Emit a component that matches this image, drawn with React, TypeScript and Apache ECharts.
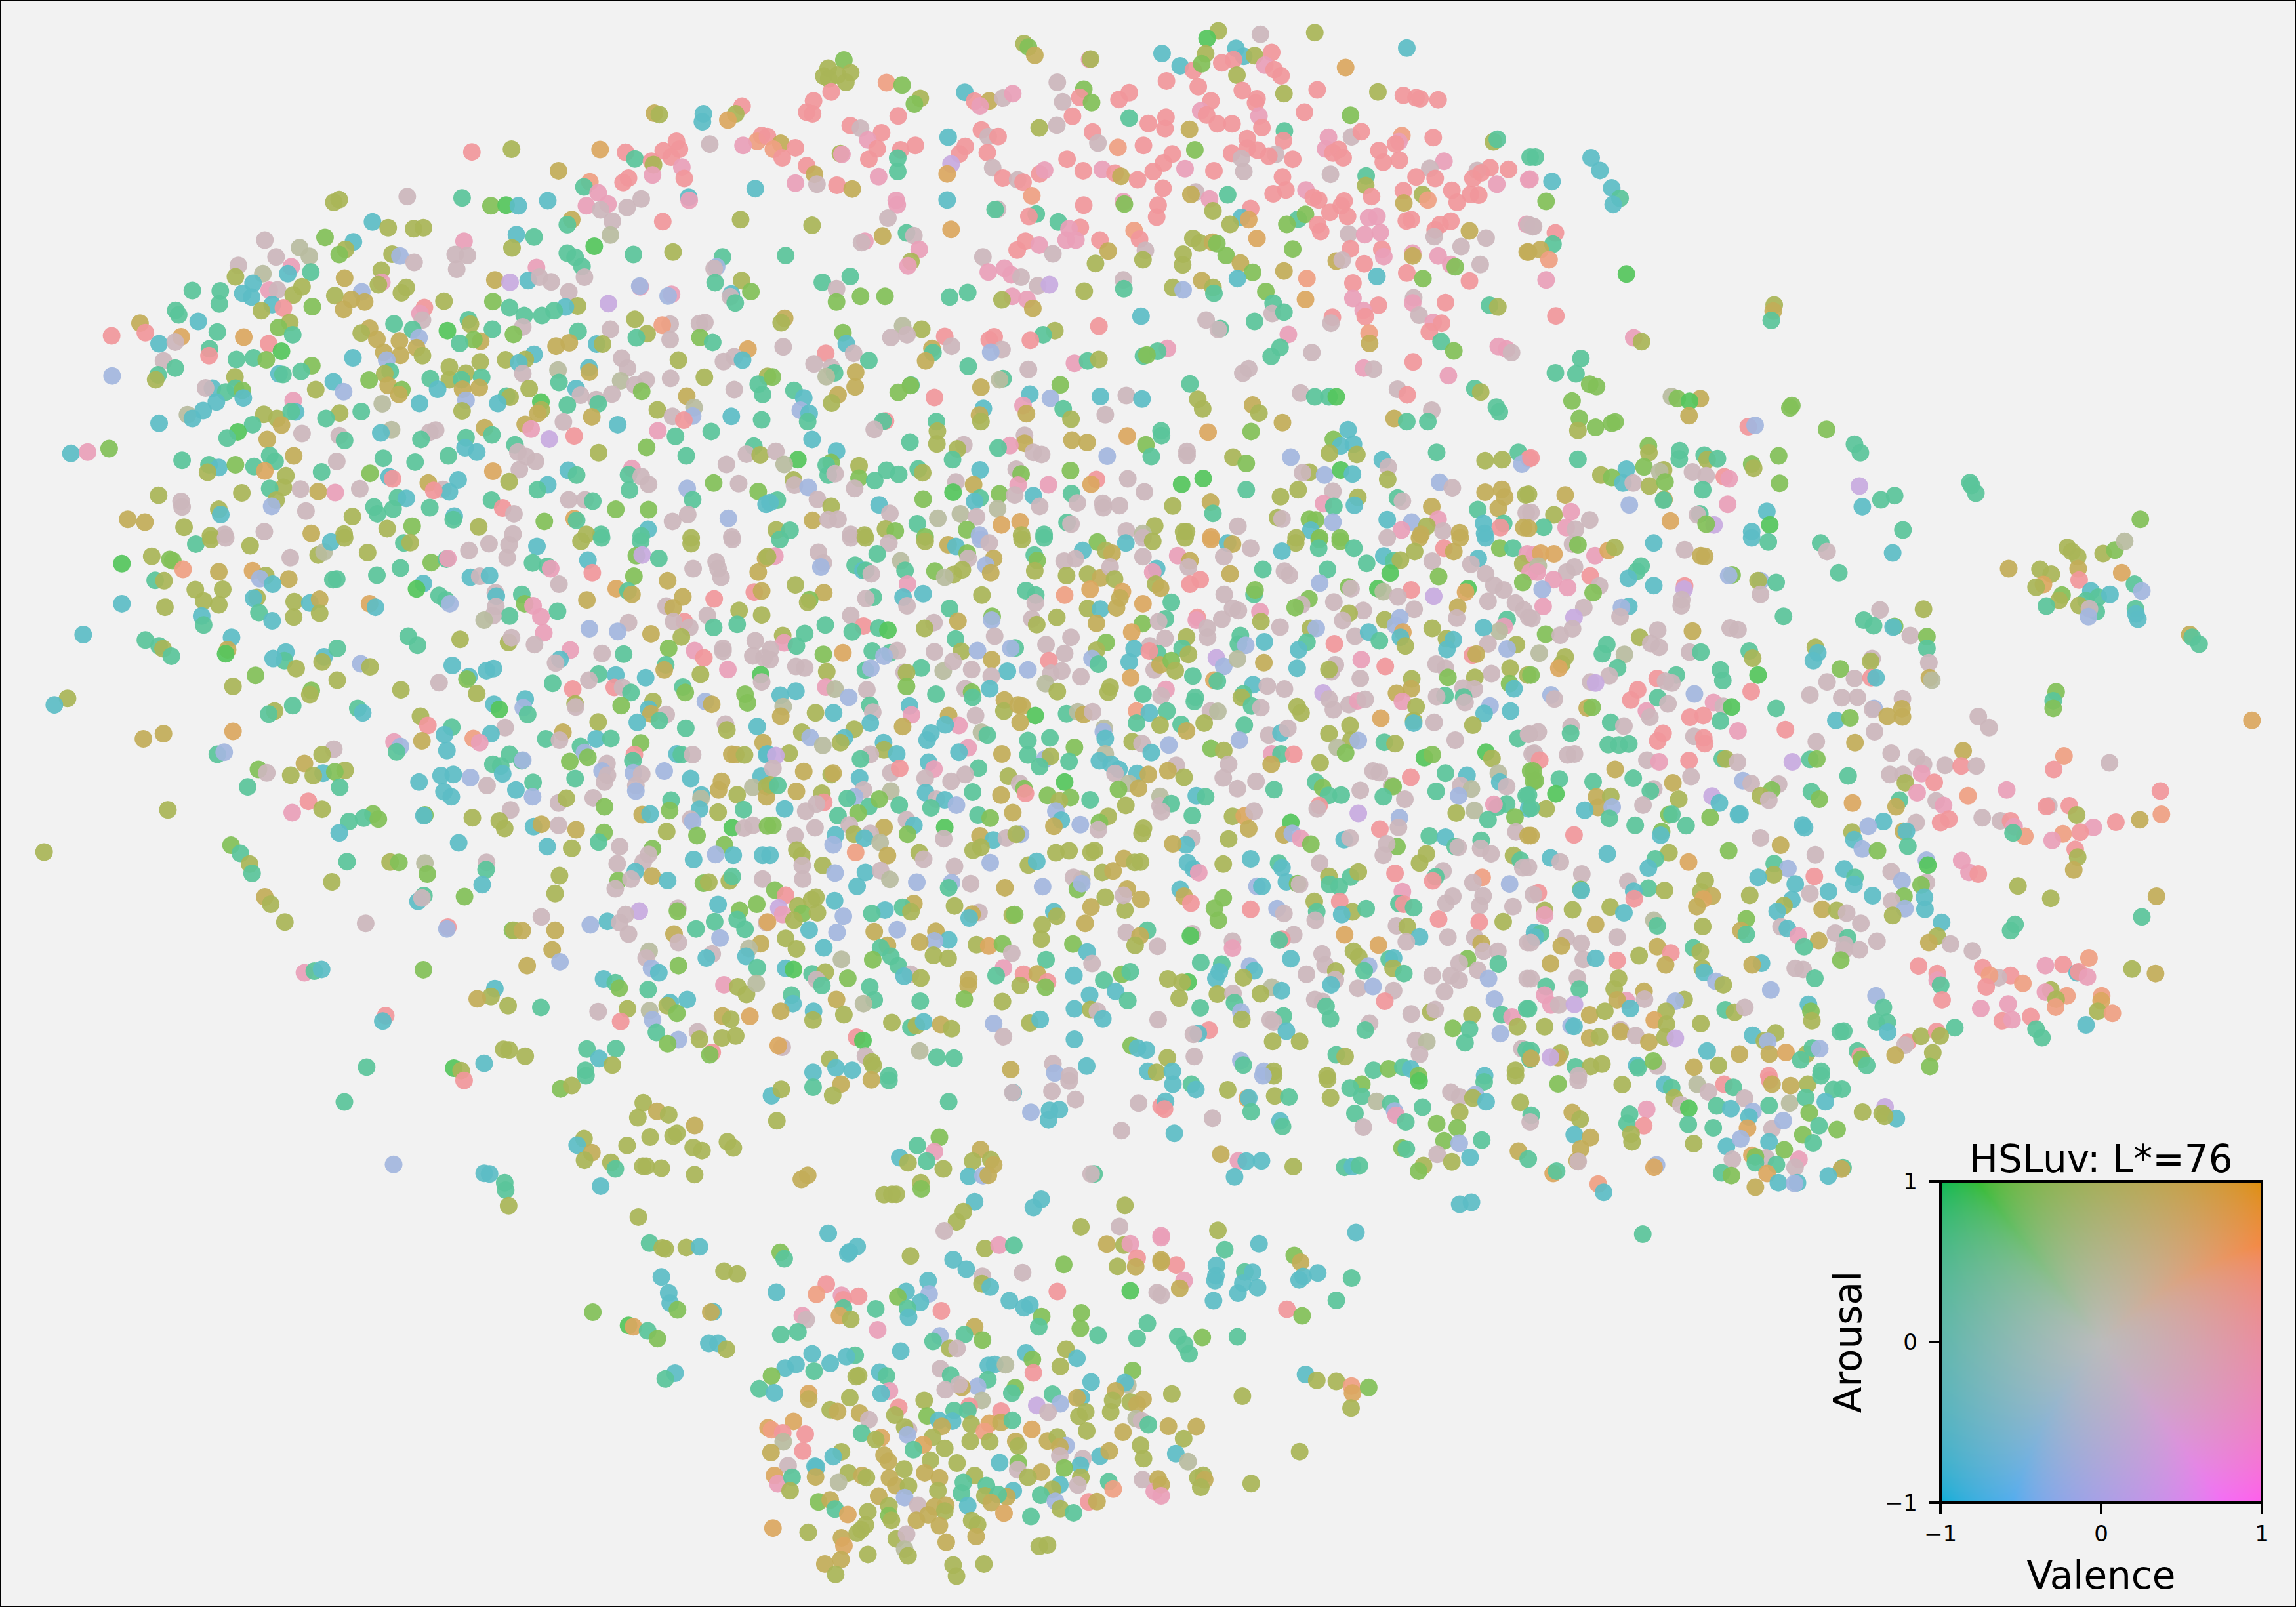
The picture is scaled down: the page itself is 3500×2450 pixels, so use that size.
import React, { useEffect, useRef } from "react";
import * as echarts from "echarts";

// Colour families seen among the points (index = third number of each point triple).
const tones = ["#55c65c","#82c058","#a9b557","#c2ad58","#dba760","#f1979b","#e99fb8","#ccb6bc","#5ac49a","#5cbdc6","#a3b6de","#c8aadf","#b9bc9f","#ef9f82"];

// Points, region by region: x, y, tone.
const northWest = [145,1322,9,179,1318,6,223,1308,1,1337,330,3,1347,334,2,1437,332,9,1435,355,9,1516,310,5,1503,332,2,1487,350,4,1556,395,5,1547,412,13,964,443,5,1045,435,2,1226,436,4,1278,444,5,1355,440,5,1382,412,5,1388,435,5,1371,458,5,1450,420,7,1518,424,6,1297,463,8,1331,470,5,1335,480,2,1393,487,6,1141,498,3,1205,530,13,1193,545,8,1284,519,5,1273,532,5,1333,510,6,1398,520,5,1543,550,9,1222,562,6,1242,595,6,1310,580,7,1407,575,9,1408,584,6,1198,600,6,1227,612,7,1281,605,7,682,590,2,693,582,2,832,573,7,944,577,8,1003,600,1,1034,598,0,1059,600,9,1119,585,9,1513,640,2,1168,640,3,1159,655,8,1251,645,7,1354,646,5,761,647,9,793,664,2,845,667,2,865,664,2,1247,685,12,664,692,1,722,705,9,1055,684,9,1091,691,8,541,700,7,612,722,12,948,703,6,706,727,2,693,742,1,801,741,2,817,746,10,632,747,12,564,749,7,930,742,7,955,745,7,1046,723,2,1214,718,0,1159,738,8,1294,742,8,1375,735,2,1476,749,8,1175,750,8,1189,777,8,846,765,7,595,778,6,487,774,7,537,798,12,635,793,8,779,788,2,933,785,7,1096,780,6,1464,778,10,1459,783,7,588,798,9,481,807,2,704,811,3,517,826,9,393,847,8,450,848,8,1011,816,3,1042,823,11,1079,818,9,1102,808,7,1126,822,7,1194,808,7,1515,818,2,1461,824,8,780,823,6,773,830,2,830,838,2,820,854,2,550,846,6,567,845,7,617,836,2,599,860,2,739,851,10,496,855,9,514,866,9,684,862,2,1162,851,7,1534,850,1,1308,836,6,1307,834,10,1372,858,6,1365,863,10,1494,857,9,1492,865,7,448,886,8,556,888,9,907,878,2,1007,879,1,1243,885,11,718,873,3,745,880,3,1180,892,2,1155,895,9,1502,883,8,638,894,1,702,902,3,579,898,5,534,906,2,1041,897,8,867,897,5,858,914,6,359,905,8,365,918,8,1071,920,8,1107,920,8,1132,906,8,405,937,9,286,942,3,592,940,2,957,932,8,961,945,2,1297,931,2,1369,945,7,1440,940,7,1429,943,7,863,933,7,805,944,8,569,955,1,444,968,8,755,957,3,738,971,2,843,961,8,914,964,0,1006,960,8,1068,953,7,1247,960,7,297,970,5,228,979,5,1353,948,13,1322,973,2,1049,975,1,598,976,8,856,985,10,498,983,4,370,982,4,770,989,3,1181,966,8,1300,985,8,1430,984,1,1456,998,8,325,1002,9,358,997,7,549,1002,5,816,994,3,982,995,3,968,990,1,1136,1009,3,1163,999,3,1219,1003,9,1231,1003,2,1369,990,7,939,1001,8,851,1014,3,428,1017,8,575,1024,0,427,1037,5,784,1027,3,1528,1018,4,818,1036,3,863,1037,2,1270,1044,7,1386,1050,2,1500,1040,7,721,1043,9,518,1043,8,544,1049,1,483,1048,8,334,1052,7,981,1055,2,1033,1049,2,1091,1033,9,1073,1048,2,1478,1054,7,1517,1050,9,790,1050,10,358,1073,8,637,1066,1,918,1070,2,1060,1058,9,1282,1073,7,1140,1079,12,1203,1072,9,1204,1085,3,797,1083,8,786,1090,2,615,1083,8,570,1090,9,578,1092,8,952,1088,2,323,1093,8,318,1107,2,229,1096,10,1068,1089,7,480,1099,2,1439,1100,2,984,1100,8,879,1104,8,918,1107,2,943,1107,8,1370,1103,7,1568,1097,2,754,1108,1,681,1113,9,1268,1110,12,1320,1108,7,1142,1115,8,1297,1122,7,1549,1120,8,793,1124,3,821,1136,1,815,1150,3,645,1136,2,979,1130,3,945,1135,3,702,1142,10,1081,1133,2,1311,1141,1,1500,1136,7,434,1132,9,420,1131,7,461,1143,8,481,1132,8,495,1138,1,894,1135,9,1177,1133,9,1186,1152,7,1403,1155,3,1250,1149,7,1218,1165,7,1558,1150,8,497,1160,9,1035,1155,8,1042,1158,2,1222,1177,8,1159,1181,8,1105,1172,0,1106,1195,2,952,1167,10,442,1172,9,599,1168,6,781,1177,12,857,1176,9,1017,1176,9,1418,1188,12,1099,1205,3,944,1198,2,415,1197,9,383,1209,12,539,1208,2,566,1220,2,1343,1195,2,1374,1214,7,604,1201,9,595,1200,8,694,1204,2,738,1200,8,1209,1215,3,1415,1213,10,1397,1225,5,1494,1214,9,1556,1224,8,393,1220,9,575,1239,3,516,1238,8,325,1234,9,666,1220,8,1262,1238,9,1151,1230,7,990,1247,3,1073,1237,3,1085,1251,6,800,1253,12,890,1254,7,878,1260,7,778,1262,9,617,1264,7,486,1259,0,1005,1268,8,952,1276,8,1344,1256,6,1453,1258,8,1173,1271,5,1380,1272,8,464,1277,8,546,1281,3,693,1270,7,704,1284,8,860,1281,8,1122,1280,11,1321,1304,1,950,1305,9,974,1318,9,1052,1297,8,1223,1320,2,1540,1301,8,551,1328,8,600,1329,3,916,1329,8,1058,1318,7,1075,1331,7,1402,1329,8,1525,1324,7,1553,1326,2,372,1342,8,427,1355,8,783,1336,8,848,1347,8,688,1345,7,562,1345,8,447,1363,9,481,1355,1,519,1360,8,1094,1345,7,1291,1366,6,1484,1354,7,424,1377,2,541,1373,4,657,1376,8,756,1380,1,1007,1374,4,1061,1369,7,1161,1371,9,1178,1385,8,1284,1384,8,1310,1389,7,584,1387,2,795,1390,9,802,1396,5,875,1408,3,936,1399,9,1040,1404,2,1119,1413,9,1325,1412,7,1458,1408,1,1509,1410,7,324,1444,2,494,1437,2,579,1421,2,551,1424,8,614,1426,7,650,1433,3,685,1436,6,735,1425,7,905,1427,7,918,1434,9,886,1430,5,1098,1428,8,1286,1429,8,1404,1424,10,1549,1433,1,564,1458,2,370,1462,7,372,1478,7,812,1451,8,830,1453,9,1004,1458,8,1162,1457,7,1195,1457,7,1211,1461,8,1415,1457,8,1325,1486,1,764,1478,8,878,1480,8,803,1484,8,1258,1485,1,1027,1481,5,555,1476,10,447,1485,2,451,1500,9,625,1490,7,1050,1498,7,1565,1470,9,1173,1512,4,1178,1517,8,1405,1500,7,1488,1511,10,261,1514,3,296,1522,3,376,1537,2,720,1506,2,771,1498,8,928,1505,9,926,1515,8,842,1534,1,978,1536,2,1112,1520,1,1374,1520,7,791,1541,2,540,1550,7,636,1555,3,459,1558,7,430,1562,2,703,1557,2,1324,1543,9,1048,1557,7,1228,1558,8,1198,1558,2,1310,1562,8,1412,1568,2,1495,1565,7];

const north = [921,90,2,898,112,0,1007,100,7,1118,95,2,524,127,2,533,137,1,546,161,3,658,173,6,660,172,2,806,156,9,957,141,9,973,164,9,895,157,2,995,162,2,952,174,5,1030,153,5,1306,140,9,843,192,9,870,205,5,887,186,1,928,183,5,1016,190,6,1035,203,5,1049,221,5,959,219,2,1181,197,4,156,175,1,124,199,2,115,222,2,170,212,2,143,219,2,125,230,2,160,240,2,130,268,5,243,241,13,275,248,1,592,240,7,646,260,1,815,236,5,880,253,5,970,264,5,1055,273,2,1123,262,5,1247,268,2,1299,278,5,1325,285,5,1333,288,5,1370,291,5,403,269,9,423,295,5,453,294,3,481,286,7,501,273,6,312,287,2,300,303,1,94,294,5,80,327,5,92,332,5,434,309,6,638,284,5,662,299,1,603,297,7,718,290,5,739,270,5,906,294,5,997,300,5,1000,288,5,1097,327,5,1191,336,1,267,338,5,623,339,5,885,323,6,897,335,5,739,344,8,1004,338,6,169,366,5,190,374,7,233,387,5,555,373,2,591,365,7,778,360,5,814,342,5,919,361,5,949,361,5,812,375,5,862,377,3,1010,372,5,1056,382,8,1146,400,6,1193,399,7,1213,384,5,1296,395,13,1290,413,6,1360,401,5,437,379,5,451,398,7,471,398,5,664,385,5,369,400,9,205,408,6,980,404,5,1054,410,5,1283,420,5,1483,413,2,1491,406,8,404,427,5,224,434,5,272,437,5,302,424,5,716,430,13,675,417,7,768,424,5,873,437,1,1001,438,5,980,432,5,1140,434,6,1167,436,5,1249,439,5,0,398,5,27,418,3,12,435,13,57,431,5,392,449,5,449,445,5,266,461,8,149,448,2,152,450,6,207,464,5,30,460,5,827,449,5,948,447,5,1038,450,7,1024,455,5,1073,464,5,968,462,7,1155,446,5,1176,460,5,1558,458,8,1258,473,5,1291,467,5,612,464,5,1382,470,6,80,483,5,375,478,11,460,489,7,266,500,8,367,507,4,853,492,6,809,475,5,788,500,5,684,494,6,645,498,5,710,505,5,722,514,3,912,498,5,973,500,7,1150,508,7,1353,491,7,1476,489,5,1450,497,7,1514,494,5,96,508,3,101,537,7,57,534,6,142,540,5,173,551,3,227,515,6,481,519,5,511,524,7,522,531,5,556,507,5,566,496,6,756,524,5,1052,516,5,1223,513,8,1222,541,2,1325,516,5,1364,520,5,1441,520,5,1555,524,6,1458,504,5,1490,537,6,808,549,5,540,571,13,1033,565,5,1059,554,5,1100,554,6,1115,576,5,1234,573,5,1299,556,5,1338,567,2,1398,555,5,1349,583,13,1436,567,5,1453,569,5,875,560,7,865,567,3,903,580,6,940,568,8,263,584,6,265,597,6,367,583,9,1126,583,5,1178,586,5,1409,590,5,1300,592,3,1172,600,5,646,598,5,727,588,6,729,595,1,798,598,5,470,610,7,465,611,8,987,608,5,910,615,2,1149,619,5,246,636,7,91,657,2,549,624,8,534,631,5,795,633,5,968,634,9,983,640,4,1084,639,8,1099,625,1,1185,631,5,1228,635,6,1245,631,6,1315,640,5,1305,644,5,594,647,8,639,663,5,616,667,6,1124,655,5,1061,654,1,945,654,2,1396,645,5,1374,655,5,1551,654,6,1565,660,7,284,679,8,299,687,7,375,669,4,749,672,13,1130,675,5,1187,682,7,1220,684,6,1252,678,6,1364,670,5,1362,690,7,1434,673,3,1468,694,7,235,688,3,199,703,6,192,707,7,610,700,6,630,700,6,679,700,5,760,697,5,869,695,2,883,708,2,909,706,3,918,710,1,1000,695,4,527,703,5,555,714,6,310,727,6,37,745,8,440,749,7,510,729,5,583,740,7,696,732,3,772,730,7,937,745,1,1073,726,1,1191,725,5,1255,727,5,1417,719,7,1552,735,3,293,762,2,287,775,6,849,741,2,848,772,2,767,757,2,670,768,2,966,767,3,1259,748,6,1318,738,6,1318,746,3,1370,746,6,1162,761,3,1174,758,7,1219,769,5,1396,771,6,1405,778,1,1456,771,7,484,782,6,451,793,6,498,801,6,518,808,7,1055,790,3,991,794,1,1102,812,13,1306,796,5,1245,806,9,960,812,9,727,816,7,887,818,3,1339,812,1,1434,819,5,828,838,2,849,845,10,910,838,2,912,855,8,728,842,8,112,823,8,169,806,8,141,842,7,552,833,7,576,830,11,647,849,2,1196,825,5,1018,850,1,190,864,1,240,864,1,141,880,1,372,866,8,409,853,8,500,864,6,479,874,2,530,873,6,1099,873,4,1196,870,6,1248,890,5,1385,882,5,1320,868,7,1318,883,6,1475,890,8,1492,895,2,1033,884,8,542,899,3,1217,905,6,1221,923,5,1331,919,7,763,922,9,35,928,3,28,941,2,896,933,7,925,958,8,921,961,7,1031,914,7,1055,910,8,995,937,8,1154,925,5,1151,942,7,1360,940,6,1377,942,5,1352,967,5,276,950,12,315,960,2,677,951,5,587,964,2,154,970,1,362,981,5,252,984,7,285,976,7,463,982,5,453,991,5,1229,971,13,1230,1001,3,1064,975,6,563,976,8,537,992,5,479,1019,7,456,1027,10,161,1002,9,336,1016,3,338,1028,8,376,1009,7,32,1011,7,1376,996,8,1493,1010,6,1510,1018,6,1520,1028,7,1402,1023,1,1112,1028,7,1047,1013,8,1029,1039,8,817,1016,6,797,1024,8,119,1030,5,176,1030,7,207,1051,8,323,1052,3,627,1059,6,654,1052,8,677,1048,2,768,1038,8,775,1035,1,95,1061,7,130,1071,7,137,1087,8,410,1068,8,533,1077,7,1319,1055,5,1218,1073,6,1238,1076,7,983,1075,7,971,1088,7,180,1085,3,120,1098,12,1391,1095,6,10,1099,1,436,1129,3,481,1104,8,474,1107,12,598,1122,1,179,1128,3,863,1119,8,1287,1135,7,1445,1133,8,1457,1143,2,54,1138,8,293,1123,8,292,1124,1,267,1144,1,341,1159,5,536,1149,9,578,1161,10,680,1156,9,733,1153,7,765,1163,9,1089,1146,7,1118,1157,8,1147,1157,8,1162,1157,0,1307,1151,5,144,1151,3,131,1175,2,74,1160,9,879,1164,2,889,1192,2,1357,1196,7,991,1181,3,1004,1204,2,67,1196,10,85,1205,9,522,1182,6,604,1192,8,441,1191,9,433,1210,3,529,1206,3,690,1209,7,1489,1187,8,1495,1201,8,1280,1220,3,1306,1229,8,1349,1229,8,620,1222,2,436,1229,2,82,1229,8,241,1227,5,236,1228,8,345,1229,8,218,1252,7,1052,1232,3,91,1281,9,347,1257,2,525,1269,7,735,1271,4,804,1256,8,805,1270,8,900,1260,4,988,1258,1,1186,1253,9,291,1289,8,346,1294,2,622,1283,3,653,1290,3,525,1292,3,495,1299,6,471,1306,8,401,1297,7,388,1309,2,141,1315,9,1156,1281,1,1171,1300,9,1197,1295,9,1204,1325,2,1148,1321,2,773,1297,1,951,1333,2,543,1319,7,560,1325,7,17,1316,7,378,1340,8,694,1330,10,857,1316,7,857,1328,7,784,1331,8,978,1351,1,1069,1333,10,1367,1319,8,1534,1319,8,1556,1337,5,1541,1353,10,1466,1343,2,1501,1340,2,1256,1341,9,62,1340,0,34,1354,12,130,1348,1,120,1356,8,187,1358,2,243,1371,8,434,1370,9,619,1372,1,1268,1362,7,124,1385,8,138,1381,7,268,1383,8,308,1367,8,317,1378,2,508,1368,7,518,1382,1,187,1394,1,219,1401,8,1107,1377,2,1093,1378,7,1138,1385,10,1171,1370,0,1195,1382,9,1267,1398,2,53,1399,2,55,1414,7,83,1421,10,385,1405,7,421,1413,3,574,1413,6,512,1414,6,672,1398,5,661,1412,4,736,1396,7,846,1412,0,890,1395,0,770,1434,7,178,1424,7,1373,1406,10,1399,1422,7,1155,1432,7,1084,1428,2,1466,1435,3,1500,1427,3,1506,1449,3,1549,1443,2,978,1428,8,379,1435,0,318,1455,1,474,1440,1,434,1452,8,423,1462,9,505,1443,7,543,1445,9,621,1439,8,633,1466,7,1206,1450,2,1048,1448,2,1287,1452,8,1297,1461,7,20,1458,8,5,1465,9,102,1456,7,130,1476,2,905,1464,3,828,1475,2,685,1467,7,686,1480,7,719,1474,7,556,1476,7,470,1483,12,228,1472,9,1136,1468,6,1157,1476,8,1199,1473,9,1357,1477,3,1493,1482,3,1451,1486,8,250,1497,7,394,1498,12,348,1511,12,910,1497,8,427,1507,7,92,1517,3,124,1515,7,144,1514,7,306,1527,8,478,1530,4,516,1521,4,1042,1509,2,1051,1513,7,1107,1514,1,1120,1516,1,1155,1522,10,1266,1515,9,1370,1514,6,1463,1526,9,1504,1526,8,1550,1495,7,1545,1538,3,1316,1522,10,1347,1534,2,1295,1545,6,1335,1558,3,1380,1548,7,1414,1553,3,1497,1538,5,18,1545,2,46,1546,8,241,1542,2,261,1548,1,170,1558,7,198,1560,2,322,1565,1,407,1544,1,433,1560,10,519,1560,2,565,1558,8,612,1523,8,620,1528,7,733,1548,7,791,1533,2,767,1555,12,856,1550,2,850,1550,2,906,1565,4,961,1534,7,1110,1546,9,1080,1568,2,1128,1568,1,1170,1568,1,1465,1555,9];

const northEast = [14,458,8,128,460,9,146,497,9,3,522,6,48,529,9,170,548,9,187,578,8,173,596,9,36,587,1,200,799,0,0,655,7,9,661,7,55,679,5,50,712,8,24,728,3,0,735,3,42,757,13,36,816,6,56,921,5,502,889,2,500,907,3,496,934,8,215,985,6,231,996,2,107,1045,8,55,1087,8,97,1090,8,125,1120,1,139,1127,1,89,1169,1,292,1156,12,304,1162,1,351,1162,3,329,1170,0,328,1212,3,538,1182,1,534,1189,1,104,1220,1,101,1255,2,137,1246,1,170,1234,1,177,1230,1,449,1244,5,463,1240,10,609,1252,1,666,1295,8,678,1320,8,245,1300,1,246,1320,2,309,1314,8,308,1338,8,359,1327,8,365,1340,2,386,1337,8,5,1335,5,101,1339,8,456,1353,1,460,1365,2,511,1329,1,200,1368,9,236,1361,1,276,1370,2,268,1375,12,148,1385,2,170,1392,1,193,1408,9,214,1408,7,247,1417,2,279,1405,1,335,1376,7,363,1387,7,400,1390,5,410,1396,6,513,1409,1,676,1417,11,902,1407,8,905,1415,8,914,1438,8,748,1445,8,720,1457,8,682,1477,9,356,1428,8,277,1456,3,276,1458,8,75,1443,3,0,1441,2,206,1472,10,407,1470,6,487,1491,9,52,1501,2,5,1494,7,87,1492,6,125,1516,7,350,1498,8,345,1501,7,379,1530,11,363,1528,1,290,1519,4,493,1530,0,456,1550,9,31,1537,8,77,1538,6,96,1543,7,0,1540,3,1250,1514,1,765,1545,8];

const west = [90,916,2,400,18,8,431,5,2,461,0,7,511,23,2,593,58,7,650,50,2,662,41,12,751,43,2,676,12,9,704,0,2,825,15,8,838,14,2,958,37,7,999,17,7,1040,20,7,1036,58,7,1097,25,9,1187,10,2,1229,0,8,1309,10,8,1412,17,2,1496,5,7,249,75,0,310,54,2,347,63,1,353,67,1,374,92,13,447,99,3,516,96,4,543,110,2,531,119,10,590,120,3,557,135,9,680,122,8,688,120,8,770,109,8,818,88,8,881,72,1,912,62,8,915,60,6,1088,73,8,1118,83,8,1125,90,6,1201,65,9,1210,102,5,1300,52,1,1312,50,11,1346,60,8,1416,90,7,1463,70,7,1467,90,7,1549,100,3,1564,60,3,317,124,8,335,125,2,961,115,9,980,112,7,1000,110,9,1295,112,1,1364,125,3,1473,115,7,1142,135,7,399,151,2,455,150,2,865,133,9,851,149,0,897,168,8,911,181,8,919,192,10,1012,160,7,1014,170,9,1066,165,8,1259,148,4,1283,155,8,1291,165,3,1395,172,3,1459,178,5,1541,158,5,1556,155,3,1199,181,3,416,184,2,447,195,2,525,174,2,518,176,9,601,186,2,633,190,9,653,179,3,755,192,4,767,202,9,249,192,9,337,202,2,1072,192,1,1089,198,6,1013,200,7,1361,199,7,1375,204,3,1510,212,2,412,228,9,416,254,8,529,218,8,653,220,2,600,231,2,1041,228,8,1139,214,8,1105,230,6,1007,227,7,989,240,12,1398,244,5,1376,244,7,1445,226,7,1556,225,2,1506,252,8,556,242,9,1204,265,10,1284,247,7,1458,261,8,1409,261,7,170,282,9,473,290,9,297,298,8,325,315,8,333,323,2,350,345,8,834,287,8,853,313,8,940,296,2,1039,305,2,1045,291,7,1111,277,6,1262,273,10,1330,280,3,1392,289,2,1092,311,7,1543,300,7,465,326,3,461,338,0,584,333,9,581,358,8,558,352,9,662,347,9,658,362,2,689,322,8,1165,327,6,1230,337,7,1274,339,8,1366,322,1,1419,329,6,1438,350,5,1477,322,7,1477,331,7,1538,344,7,1561,350,7,605,381,2,737,367,10,756,376,2,924,372,9,994,387,9,1008,381,9,1144,354,9,1135,365,7,1360,370,8,1357,385,3,1487,384,6,1554,399,0,522,401,1,689,415,2,958,405,9,954,412,1,1223,397,8,1258,400,9,1203,415,7,1319,408,9,1431,398,2,1556,420,7,476,433,2,819,443,2,897,422,7,1129,424,8,1170,441,5,1255,436,5,1272,436,7,1289,451,8,1395,435,8,1400,451,1,636,445,1,633,457,2,974,454,2,1522,456,1,1527,481,1,138,468,2,111,487,9,1073,470,9,1175,484,2,1176,493,7,1009,485,9,1020,500,0,1069,495,10,1441,477,10,1454,485,3,1334,477,2,1269,489,1,731,497,8,741,510,9,598,489,8,561,505,2,549,514,8,1078,515,8,1325,499,9,1330,513,3,1361,515,7,1347,533,8,859,520,2,874,547,5,1222,537,2,1302,538,9,923,552,8,1032,553,7,1482,543,7,1485,560,2,1547,550,9,1401,555,8,908,574,9,967,585,13,1003,571,9,980,597,6,1115,586,8,1150,567,3,1143,590,7,1218,586,9,1248,585,8,476,564,4,293,586,3,334,571,3,805,595,6,818,608,10,810,624,8,862,592,3,1186,608,8,1309,598,1,1559,597,3,1194,626,10,1201,640,1,444,631,8,458,625,10,682,616,7,913,620,9,658,632,2,622,658,3,1041,631,8,1066,650,8,1068,648,10,1007,660,8,1023,665,8,1164,652,1,1296,632,5,1293,650,8,1383,630,9,1392,632,8,1415,632,7,1495,631,3,1503,632,3,1521,633,2,1566,632,9,660,686,9,705,678,2,684,682,1,528,675,1,545,685,7,594,692,2,640,693,2,1027,688,9,1240,658,7,1230,680,10,1241,692,7,1294,685,10,1311,689,7,1357,680,10,1411,702,9,1555,695,9,506,726,8,694,727,8,856,712,9,901,693,9,926,690,9,961,699,10,1175,702,8,1235,712,7,1299,722,7,1474,710,3,1468,735,3,995,722,7,1089,713,8,1054,735,9,907,740,9,1299,738,10,1506,749,2,1538,727,12,1566,725,2,922,755,9,1088,755,10,1433,750,9,1432,760,12,630,768,5,343,793,2,597,801,6,658,791,2,1043,793,7,1141,773,7,1157,759,2,1212,758,7,1371,765,8,1566,755,3,1235,784,1,1368,795,1,1429,791,9,1467,800,2,1519,792,8,762,805,1,713,827,8,743,817,8,773,820,1,868,808,1,866,810,9,965,816,2,1020,825,2,1031,847,2,1312,807,3,1328,805,9,1411,820,7,1415,827,10,1090,842,9,1106,835,3,1141,838,7,1177,851,3,1234,859,1,1496,845,0,1520,846,7,1538,838,7,1568,840,1,693,860,9,1362,856,2,1424,868,1,937,889,9,1223,887,8,472,896,1,491,920,8,1266,900,7,1333,906,1,1118,900,9,1168,905,2,1480,895,1,1462,923,10,1498,925,9,1558,925,9,510,951,2,515,978,8,709,944,8,797,945,2,815,946,1,868,948,12,994,946,7,993,967,8,1325,923,7,1314,945,7,1261,950,7,1417,938,9,873,980,1,1143,985,2,1298,973,9,1332,986,3,1364,999,9,678,1003,2,985,1011,9,1263,999,1,1289,995,7,1437,1007,1,1448,1004,2,1490,1000,2,1496,987,8,1558,995,7,1257,1023,7,541,1047,3,553,1068,2,949,1046,1,866,1043,8,854,1060,9,862,1050,7,1134,1037,2,1467,1069,9,1546,1068,1,1385,1080,7,1384,1088,1,582,1120,2,747,1124,7,1106,1105,7,1306,1088,11,1278,1098,7,1511,1086,1,915,1135,5,913,1140,10,1047,1144,1,1050,1144,2,1067,1145,3,1134,1144,3,1206,1128,10,1241,1118,9,1266,1122,7,1284,1155,7,1377,1155,3,1422,1140,8,1460,1119,8,1506,1113,8,1522,1141,8,1566,1122,7,1471,1167,10,1386,1180,7,1554,1183,3,1128,1201,3,1326,1205,12,1530,1197,12,1320,1225,7,1144,1236,10,1455,1213,7,1443,1225,9,1524,1220,9,622,1268,6,642,1263,8,657,1258,9,865,1259,1,1077,1247,3,1331,1255,10,1346,1268,9,1386,1247,1,1547,1253,8,1011,1314,9,1003,1337,2,975,1344,3,1233,1286,9,1257,1297,8,1265,1313,1,1324,1317,8,1479,1303,6,1507,1309,2,1525,1331,2,1545,1299,12,1038,1364,2,1105,1369,8,1369,1355,9,1404,1346,9,1363,1364,2,1282,1373,2,1327,1378,12,1383,1386,1,1222,1381,7,1333,1405,10,1268,1410,5,1476,1394,3,1493,1403,2,1532,1395,4,788,1393,5,782,1409,9,1425,1440,7,1429,1462,2,1341,1442,8,1386,1463,10,1364,1475,1,1475,1458,2,1503,1452,2,1029,1491,2,1040,1493,2,1073,1511,2,1199,1490,8,1258,1489,8,1455,1500,5,1450,1507,1,989,1532,9,1224,1518,9,749,1543,8,927,1546,0,942,1553,2,1196,1552,8,1251,1537,2];

const centre = [25,5,8,170,0,7,200,0,2,248,15,7,322,10,2,369,20,3,385,25,9,435,5,10,453,15,7,520,5,2,565,0,8,674,12,1,732,15,9,767,0,7,787,10,2,853,0,2,906,5,4,940,15,9,950,18,3,987,30,7,1079,15,2,1051,39,9,1127,5,1,1126,30,8,1170,10,1,1198,30,8,1266,0,7,1332,0,3,1382,30,5,1402,40,3,1415,0,3,1467,0,9,1496,30,1,1523,30,8,15,53,6,104,42,7,408,45,1,410,60,7,462,60,3,545,50,8,551,66,1,644,37,9,629,61,7,606,68,7,691,37,2,704,45,3,838,52,6,863,67,3,932,55,7,1259,53,9,1279,67,8,1293,65,2,1322,40,2,1452,60,9,1552,47,6,0,55,2,114,73,7,109,85,10,272,67,12,224,47,8,179,80,8,195,95,9,201,95,8,212,105,7,281,95,8,342,97,1,380,107,2,398,93,2,362,115,12,446,80,10,456,102,3,546,96,2,611,110,2,654,106,2,680,117,3,700,85,7,709,120,2,767,55,7,795,90,9,787,100,6,860,85,7,945,105,3,1012,92,8,1056,97,7,1066,109,7,1144,92,8,1224,74,8,1272,103,0,1358,68,7,1371,113,1,1437,77,7,1467,105,7,1543,75,2,1558,100,6,57,137,2,115,160,3,286,135,6,318,163,9,438,167,2,528,154,8,548,167,8,607,167,13,659,150,4,725,157,4,793,135,2,803,147,3,720,175,3,863,135,5,884,122,5,933,165,7,994,165,8,996,152,1,1128,132,10,1187,143,1,1192,148,7,1247,148,0,1258,157,12,1315,152,5,1288,172,7,1431,148,0,1426,158,4,1361,170,11,1484,138,7,1504,152,7,1472,185,7,1543,130,1,86,180,1,82,188,2,216,173,8,201,177,7,277,173,9,285,198,7,372,206,8,547,190,7,654,206,2,680,208,9,713,204,3,767,192,4,825,188,8,950,205,7,962,212,7,1106,178,1,1091,195,7,1078,203,1,1157,187,7,1217,212,7,1188,220,2,1410,202,3,1321,208,7,1528,190,7,1545,210,7,170,226,7,118,254,8,459,229,1,458,240,10,540,236,7,591,232,2,550,253,2,672,249,3,766,250,1,813,236,8,799,244,7,878,232,5,876,240,6,928,237,7,1006,215,6,1008,244,2,1047,260,7,1175,241,7,1261,239,2,1292,233,10,1283,255,10,1358,264,2,1408,234,7,1511,238,8,1505,258,6,1555,232,7,196,257,5,173,274,8,227,263,8,246,269,0,340,247,7,321,264,2,389,243,3,898,263,7,899,290,7,966,285,8,1109,264,2,1121,264,10,1200,287,7,1228,275,9,1298,275,4,1293,290,9,1387,294,2,1495,272,12,1463,262,9,31,285,2,76,279,8,34,306,6,59,315,8,384,295,8,464,287,7,620,290,7,692,305,1,744,275,4,812,293,7,781,315,7,856,289,2,1015,303,9,1158,309,5,1102,304,8,1250,300,8,1303,315,2,1401,297,9,1472,309,7,1530,311,2,1511,324,10,6,325,7,214,330,8,250,335,8,265,329,7,238,345,10,341,332,7,396,331,2,429,329,10,506,321,8,497,322,10,569,311,7,607,337,7,672,328,2,749,323,9,797,337,8,847,322,8,860,340,2,962,310,8,977,313,10,1085,326,9,1388,325,9,1440,342,5,1448,339,3,114,340,1,154,335,4,5,355,7,58,375,7,76,379,7,121,390,2,200,386,8,211,380,10,314,379,8,279,392,7,284,393,2,359,388,12,379,360,7,417,384,7,458,355,3,490,389,9,532,385,10,575,358,5,579,395,7,601,388,7,663,352,10,676,368,8,739,362,9,780,330,5,790,385,7,802,370,3,825,358,1,833,387,2,917,350,11,932,375,10,960,353,12,1014,364,3,1082,380,9,1152,390,7,1160,370,7,1147,384,2,1213,355,6,1262,375,5,1366,368,7,1385,380,7,1479,396,7,1517,380,2,1553,400,2,404,440,7,869,403,8,457,403,7,640,405,7,568,425,12,742,408,4,912,415,4,919,418,8,1211,410,7,1316,411,2,1390,407,1,1445,407,2,119,435,6,138,441,12,203,443,7,284,433,1,344,456,8,417,450,1,419,465,8,454,440,9,592,448,2,700,435,2,696,450,2,767,456,8,814,442,6,804,461,7,874,465,8,872,477,8,992,428,9,972,455,8,968,465,2,1021,432,7,1056,441,7,1135,452,11,1147,470,7,1285,453,3,1315,440,3,1421,438,7,1444,441,7,1422,464,8,1384,460,8,1367,463,7,1425,480,7,1516,425,1,1525,440,9,26,459,9,58,447,9,166,465,10,32,492,12,484,473,3,483,505,2,512,487,3,520,490,3,989,490,8,1008,495,7,1082,492,2,1090,510,2,1156,501,7,1188,486,7,1206,475,6,1221,471,7,1297,477,6,1325,492,2,1476,490,10,209,488,8,290,490,9,1464,512,9,1518,505,9,27,520,3,98,510,2,135,510,9,215,508,7,294,516,6,425,518,7,370,518,3,547,518,0,611,513,8,634,507,12,646,515,3,664,507,7,754,505,13,780,510,9,816,505,8,905,505,7,920,506,12,1253,526,4,1320,533,2,1320,540,9,1362,538,7,1441,546,2,210,540,9,276,550,3,391,547,6,363,545,9,516,538,3,688,555,12,754,540,8,845,544,8,856,563,3,802,546,2,892,540,2,974,546,8,1190,547,2,1147,571,2,70,567,2,177,558,2,87,582,10,157,583,9,334,569,9,326,590,9,437,567,12,449,575,8,577,583,8,532,591,8,686,565,10,690,585,9,745,594,2,1024,575,7,1049,569,9,1063,555,7,964,590,10,1192,590,2,1207,591,10,1405,590,7,1260,596,8,1282,600,2,1533,585,8,1556,572,7,113,605,12,149,597,2,237,597,9,238,618,2,410,612,6,391,625,9,765,600,7,784,626,9,820,604,10,906,614,1,932,620,2,1164,611,12,1181,627,1,44,628,2,210,631,7,264,630,9,0,630,9,17,635,11,190,645,8,329,654,9,340,674,6,479,630,3,532,633,8,567,645,10,578,637,2,627,611,1,616,652,8,690,630,12,678,650,9,702,660,9,718,675,9,1030,630,6,1049,630,8,1075,631,5,1129,656,2,1029,660,3,1342,641,0,1358,632,1,1468,625,0,1480,643,2,1562,630,7,11,672,7,74,681,3,130,690,2,134,686,3,252,685,7,270,672,5,431,671,8,556,667,8,710,687,7,835,663,7,818,679,3,942,660,7,1237,680,7,1250,684,7,1385,686,8,1429,692,9,1493,686,12,1559,680,1,188,700,9,322,701,7,404,690,7,492,695,2,515,716,7,524,731,1,607,712,0,755,687,9,778,690,3,851,698,2,931,700,7,1314,698,5,1496,712,9,1510,725,7,1565,710,1,5,720,2,21,722,8,375,710,7,738,716,12,998,710,7,1035,734,8,1120,712,8,1134,728,1,1211,736,7,1275,722,7,1278,725,1,1416,722,7,1438,732,12,59,739,3,111,745,2,252,738,12,196,735,7,178,755,10,163,760,8,323,743,9,527,745,5,572,751,1,477,750,3,619,757,1,758,730,3,717,733,1,802,754,12,876,752,9,895,755,8,960,731,7,1146,751,8,1172,750,8,1258,755,8,1366,739,8,1302,762,7,1412,752,10,1550,752,8,115,771,5,100,776,7,35,790,9,78,797,7,207,783,8,228,762,1,269,779,8,345,762,7,362,764,9,419,741,8,596,767,2,659,764,8,732,780,2,802,781,7,825,775,8,805,798,7,1127,780,5,1123,790,7,1491,785,8,1510,776,8,1484,777,6,1555,790,9,1407,802,2,1444,795,12,144,810,8,185,802,1,334,787,8,386,779,10,430,808,8,455,817,1,501,801,3,589,797,10,639,836,10,600,823,9,696,812,2,585,841,3,768,846,2,868,810,8,950,812,2,974,811,4,994,797,7,983,848,3,1291,816,10,1472,822,8,1527,814,1,1207,803,11,11,838,1,97,845,7,167,837,7,139,866,9,134,895,10,238,844,3,284,822,7,299,838,9,362,844,0,360,877,7,678,830,1,676,851,7,1069,830,0,1251,849,5,1289,844,7,1529,857,7,56,868,7,177,864,2,210,862,7,198,876,9,286,864,1,434,869,3,461,881,9,488,875,7,517,864,10,508,864,2,765,862,2,867,876,7,855,895,9,942,878,2,1055,866,3,1072,862,10,1089,876,6,1110,893,1,1178,880,9,1190,875,7,1352,869,8,1385,873,9,1405,900,8,1411,902,7,1458,882,8,1554,868,3,60,910,2,230,888,12,828,892,3,1286,900,1,1265,892,7,1457,905,7,70,927,2,180,917,13,245,926,3,310,918,2,319,937,7,420,911,2,436,902,2,589,918,2,616,912,2,661,917,2,668,911,2,1258,925,7,1346,921,2,1478,921,7,1524,926,2,1538,940,8,5,925,9,71,955,7,113,955,2,138,977,10,200,975,9,231,970,7,382,958,7,455,947,10,533,954,2,550,943,9,728,935,3,750,946,2,762,945,2,858,947,9,870,965,9,881,976,6,931,951,2,987,936,9,1044,948,8,1051,962,9,1128,948,7,1332,948,2,1543,962,7,72,995,7,250,996,12,305,1004,10,376,1005,10,684,975,2,706,971,3,642,996,12,625,990,7,1060,1003,9,1083,1008,1,1087,1010,7,1147,987,2,1148,1010,8,1168,1017,8,1191,989,8,1207,974,2,1282,978,5,1380,971,7,1365,988,8,1359,1000,5,1460,990,13,1441,1005,7,1516,1009,10,15,1027,1,37,1042,5,183,1016,9,370,1020,8,415,1008,7,485,1020,3,562,1017,10,633,1025,1,642,1008,10,735,1024,3,1000,1016,10,1010,1016,9,843,1025,9,851,1045,3,1297,1031,6,137,1058,9,99,1048,2,90,1055,2,62,1073,2,71,1095,1,23,1079,11,31,1098,6,102,1093,2,0,1120,4,54,1115,2,299,1066,3,276,1077,8,293,1090,2,240,1085,9,213,1095,8,155,1103,10,382,1073,2,432,1092,7,418,1097,3,412,1108,9,500,1100,2,505,1098,1,585,1090,9,591,1103,2,661,1076,3,690,1048,2,730,1085,2,763,1054,3,727,1042,7,931,1050,1,913,1080,1,921,1115,1,865,1065,5,987,1083,5,1041,1081,10,1055,1095,7,1117,1060,2,1122,1090,8,1119,1115,7,1169,1060,5,1195,1090,2,1173,1098,9,1223,1081,8,1290,1066,8,1300,1068,5,1320,1078,8,1371,1112,5,1386,1065,7,1400,1045,7,1462,1044,7,1455,1072,7,1523,1075,7,1454,1120,5,1503,1119,2,85,1143,9,142,1150,10,37,1168,2,218,1148,3,265,1142,10,344,1147,3,649,1124,3,561,1128,2,559,1170,2,733,1150,7,776,1144,8,761,1160,3,868,1154,7,864,1160,0,1075,1157,7,1051,1170,5,1045,1173,8,1179,1157,4,1285,1131,7,1307,1133,2,1332,1163,9,1390,1164,7,1445,1165,7,1458,1182,3,1305,1178,7,1553,1180,7,1567,1150,9,59,1198,2,115,1195,9,370,1172,9,341,1175,10,311,1179,3,245,1188,3,231,1195,8,427,1186,2,452,1190,4,480,1184,1,624,1184,1,751,1188,2,797,1191,7,950,1176,7,950,1196,6,1248,1187,4,1492,1205,7,1463,1205,7,339,1217,2,369,1226,2,252,1220,8,499,1211,7,653,1207,9,569,1230,8,1133,1213,7,1197,1205,2,1208,1222,2,1270,1228,8,1279,1225,9,1069,1227,9,663,1241,7,151,1229,12,215,1230,1,267,1247,8,37,1255,9,53,1258,0,928,1243,8,885,1238,8,1139,1245,7,1228,1248,10,1430,1227,1,1413,1240,7,1493,1242,8,1451,1260,7,1278,1255,2,985,1248,10,994,1262,9,1161,1263,2,1219,1262,8,1300,1270,8,91,1271,8,118,1266,2,164,1284,1,100,1288,7,292,1272,7,279,1278,9,313,1283,2,411,1288,3,482,1254,6,467,1276,8,523,1272,5,551,1271,3,572,1295,5,626,1276,9,724,1272,1,741,1265,8,687,1290,8,923,1265,9,916,1285,9,972,1282,2,818,1286,2,859,1295,0,847,1296,2,1101,1272,7,1160,1288,7,1151,1303,9,1358,1276,7,1396,1276,7,1413,1290,7,1473,1285,10,1552,1285,7,111,1305,8,209,1309,8,410,1305,3,516,1305,2,568,1310,1,711,1322,9,658,1333,9,1030,1310,12,1050,1320,9,919,1330,2,1007,1329,2,951,1328,7,1206,1313,7,1237,1308,10,1279,1320,7,1383,1323,7,49,1333,8,52,1358,9,218,1347,8,196,1358,12,141,1346,3,312,1351,8,402,1345,1,480,1352,2,736,1349,8,841,1342,2,954,1355,8,1118,1346,7,1134,1352,7,1141,1366,8,1261,1351,5,1485,1345,10,27,1380,3,94,1380,9,156,1390,2,93,1406,2,627,1373,9,660,1375,2,674,1380,7,685,1402,9,884,1370,8,967,1382,10,969,1404,2,1054,1394,8,1150,1402,8,1027,1405,7,1034,1412,7,1315,1388,7,1355,1382,2,1364,1375,7,1439,1391,2,1500,1390,8,1521,1397,6,1551,1373,8,254,1413,2,293,1427,8,304,1422,2,319,1411,9,354,1419,3,376,1431,2,462,1416,10,536,1414,2,557,1404,9,798,1405,7,902,1435,5,880,1445,9,870,1447,7,1060,1438,9,1230,1415,7,1221,1435,8,1400,1430,1,1434,1432,8,1532,1425,2,182,1456,5,195,1465,0,482,1454,7,627,1462,9,1032,1468,2,1087,1468,2,1497,1445,10,30,1485,7,22,1480,4,311,1496,12,743,1480,1,756,1487,9,774,1493,9,872,1512,7,346,1514,8,381,1517,8,817,1516,2,1162,1507,8,1180,1512,2,1324,1465,7,1347,1469,12,1425,1472,8,1332,1506,7,1541,1489,7,1550,1493,8,127,1520,2,200,1510,7,213,1528,2,216,1538,2,140,1545,9,583,1533,7,652,1540,9,497,1550,3,967,1524,10,972,1537,8,93,1558,9,173,1552,9,248,1568,8,587,1560,10,617,1568,7,777,1555,9,795,1558,2,827,1555,9,1014,1555,10,1034,1555,2,1143,1568,2,1238,1552,8,1269,1548,1,1298,1543,8,1314,1548,9,1330,1568,1,1465,1568,9,1528,1552,2,1558,1520,8];

const east = [90,18,7,101,20,1,12,50,6,25,45,4,52,47,4,136,52,6,163,37,4,176,28,2,256,15,9,319,35,7,352,52,3,360,54,3,456,0,9,490,12,8,597,15,8,610,40,7,744,44,9,1101,28,2,1110,40,2,1122,55,2,1174,46,2,1198,36,1,1218,10,12,981,90,3,1045,92,2,1068,106,2,1123,90,3,1212,102,4,1125,123,5,20,82,12,230,82,8,221,98,8,94,85,7,78,100,7,18,100,6,126,111,5,51,122,6,204,118,9,634,102,8,416,108,1,409,110,10,256,139,9,145,140,7,80,145,6,28,150,10,132,160,1,319,140,5,318,150,11,474,125,10,469,125,2,506,130,8,474,165,7,1052,136,4,1037,144,2,1090,167,1,1084,182,2,1149,155,9,1139,183,8,1164,173,8,1188,165,9,1238,135,8,1253,155,10,313,180,7,312,198,7,30,200,6,113,203,7,205,200,9,190,203,10,187,230,7,521,229,8,1058,199,8,1125,197,2,1160,215,8,1146,207,7,1144,230,10,1240,207,8,1241,222,9,1245,237,9,718,210,7,807,208,2,93,232,11,90,265,7,7,235,7,685,240,8,705,256,8,748,258,1,745,260,9,35,281,1,65,284,7,264,269,7,227,290,2,335,272,3,412,263,7,428,268,7,780,285,7,814,288,1,1351,282,3,1356,290,8,1370,310,8,250,308,7,267,319,7,160,311,8,151,338,8,22,336,12,196,340,12,329,333,7,352,333,8,451,330,8,458,351,2,586,319,2,591,335,9,814,322,8,75,347,2,68,368,2,62,380,4,582,358,9,702,352,7,699,360,2,818,364,7,182,379,8,392,385,8,397,416,8,469,400,0,637,382,1,5,400,1,302,400,8,165,402,7,127,420,7,137,423,11,263,410,5,280,418,7,293,423,7,610,420,7,666,410,7,700,408,5,710,408,9,819,408,3,824,415,12,455,448,5,223,443,5,339,455,10,575,458,7,640,466,7,672,465,7,764,469,7,1078,449,1,1072,475,8,1072,497,1,46,458,10,53,470,7,209,473,5,264,466,8,285,484,7,241,505,6,378,480,6,398,491,7,415,493,0,120,496,3,130,494,1,506,497,8,706,497,10,703,500,7,763,498,3,764,522,3,733,520,3,1478,532,4,330,523,5,357,518,5,248,523,7,392,534,8,628,532,9,657,525,1,919,521,7,941,553,7,168,538,8,195,549,7,87,550,7,86,570,8,20,566,7,0,573,7,275,570,5,264,592,5,428,563,6,525,559,5,707,565,7,338,579,7,358,583,5,360,600,5,588,594,7,667,597,3,163,603,8,185,604,8,205,601,8,888,621,3,12,628,7,80,633,7,94,630,7,741,628,7,793,640,7,807,660,7,851,663,7,884,665,5,915,665,7,1094,636,13,1187,656,7,1073,675,5,23,648,5,242,648,7,267,653,6,328,649,5,396,644,8,403,645,2,427,654,7,539,653,11,575,646,8,589,645,1,177,675,3,10,680,1,14,708,1,63,703,8,214,701,8,332,696,7,653,694,8,738,690,7,765,690,7,803,687,6,829,713,5,438,708,10,455,716,7,511,718,7,295,714,3,132,711,8,770,714,2,256,732,7,249,738,8,56,746,0,0,750,8,375,753,11,497,735,1,578,740,8,594,762,1,474,752,2,794,743,6,977,735,6,1291,738,5,898,752,13,139,755,3,168,754,2,491,765,7,390,773,9,307,762,2,662,773,4,758,765,8,751,784,3,833,767,7,848,780,6,234,779,7,142,786,3,115,794,9,171,785,10,36,790,2,5,788,8,1105,781,5,1063,781,7,1058,783,5,1293,806,13,1120,808,2,1249,822,3,1200,829,5,1154,844,6,287,807,1,293,806,8,371,815,1,432,805,9,429,807,9,165,818,8,322,839,8,218,838,8,725,827,9,694,841,10,792,830,7,859,820,5,842,830,5,927,816,7,964,825,7,985,825,5,992,842,6,560,837,9,564,845,9,93,866,5,272,856,1,270,867,9,5,868,3,474,875,7,661,858,2,766,855,3,772,855,9,1014,870,13,1092,863,13,1127,858,5,1070,882,6,990,860,8,515,896,3,665,880,9,409,912,1,682,907,10,713,912,1,775,899,8,1117,908,5,1122,931,2,161,921,9,287,918,2,259,936,8,45,933,9,65,945,7,327,945,4,586,924,7,245,963,9,885,941,6,813,940,10,816,954,0,1114,968,3,0,960,7,109,980,7,502,950,8,530,964,10,501,982,2,469,990,9,584,987,5,645,965,9,667,990,8,741,973,7,763,1000,10,900,975,6,919,980,5,203,1002,7,361,999,2,245,1021,8,278,1028,2,20,1035,5,10,1040,7,107,1025,1,108,1028,9,1000,1015,2,352,1032,2,215,1030,9,216,1052,5,545,1009,9,613,1031,9,665,1010,9,813,1005,7,802,1012,1,1067,1051,2,1283,1045,3,375,1044,3,452,1042,2,357,1053,4,344,1075,3,538,1055,9,575,1037,7,703,1043,9,767,1045,1,809,1048,9,742,1059,7,522,1072,2,33,1086,2,33,1100,6,90,1084,2,167,1076,2,195,1093,9,810,1083,9,769,1081,10,600,1083,3,630,1086,2,650,1094,7,508,1089,9,744,1101,2,256,1115,12,263,1131,8,137,1127,3,356,1133,2,445,1111,1,434,1145,3,445,1156,8,679,1124,7,844,1121,9,516,1134,7,529,1139,9,994,1127,8,985,1145,8,1253,1105,8,25,1153,8,14,1164,9,77,1166,7,108,1182,7,181,1164,7,5,1180,7,67,1190,3,551,1160,6,627,1152,7,652,1166,8,593,1174,3,712,1176,7,835,1161,2,818,1180,3,862,1184,7,337,1195,8,351,1207,2,263,1192,3,563,1192,8,646,1186,7,676,1201,7,645,1202,7,907,1204,7,45,1241,3,112,1229,7,137,1226,9,181,1232,5,226,1218,2,291,1210,5,638,1231,1,1145,1225,13,1233,1257,2,1281,1270,3,476,1240,9,457,1245,3,280,1245,3,797,1248,5,928,1253,5,835,1270,5,1056,1247,6,1092,1244,5,545,1255,7,561,1258,7,985,1276,5,960,1282,7,942,1275,13,1121,1268,9,1124,1265,5,1142,1280,6,355,1255,2,359,1267,9,184,1284,2,100,1284,7,5,1285,7,36,1308,8,585,1284,8,835,1290,6,383,1293,10,398,1303,2,1010,1299,13,842,1304,8,935,1309,5,1067,1318,2,1056,1324,6,495,1318,10,175,1315,2,104,1315,8,236,1322,3,318,1346,2,300,1351,10,200,1349,6,237,1345,7,181,1347,3,710,1335,10,33,1333,6,46,1362,6,62,1362,7,94,1360,11,1100,1335,13,1171,1335,13,1170,1350,4,1078,1345,2,1077,1368,13,725,1369,8,845,1347,5,924,1372,6,980,1359,6,125,1391,3,156,1380,2,208,1372,9,281,1380,2,402,1376,8,421,1383,2,442,1369,7,572,1360,9,577,1380,1,1163,1380,2,1193,1386,13,257,1406,4,0,1373,8,33,1425,2,87,1422,10,93,1424,9,282,1418,2,352,1416,2,579,1408,2,710,1412,8,733,1412,8,734,1441,9,968,1408,5,988,1405,6,1026,1396,5,1139,1420,9,1037,1432,8,1049,1457,8,871,1428,8,775,1470,5,769,1479,7,802,1453,2,834,1439,5,841,1452,2,188,1434,7,188,1440,3,219,1451,7,246,1470,3,125,1458,3,145,1454,2,279,1455,2,300,1459,11,505,1443,2,458,1450,9,482,1466,2,489,1468,10,637,1440,8,644,1438,8,5,1495,8,365,1496,9,431,1505,3,492,1505,3,526,1500,4,568,1505,2,580,1487,8,595,1489,10,749,1508,3,826,1501,2,672,1496,8,678,1510,5,680,1520,1,556,1522,8,691,1538,8,65,1502,2,60,1515,3,45,1514,11,5,1518,3,96,1542,8,127,1541,2,150,1534,2,221,1538,9,224,1545,8,263,1540,7,255,1525,1,338,1543,3,388,1538,2,820,1541,1,102,1568,7,491,1568,5,598,1555,8];

const southWest = [144,14,5,341,39,1,364,29,2,393,0,8,772,59,9,792,40,2,857,34,8,914,25,3,976,12,3,1012,14,8,897,58,2,1134,77,8,510,80,2,538,105,3,562,115,2,499,124,2,783,133,2,615,147,3,1266,50,9,1265,50,7,1345,46,7,1393,70,7,1380,16,7,1522,81,7,1302,108,10,1340,102,9,1360,100,9,1338,130,9,1487,162,7,1568,90,5,524,181,2,389,186,2,375,205,9,405,227,3,477,206,2,571,178,2,579,170,2,612,212,2,630,221,2,682,195,2,694,213,2,390,249,2,444,256,2,453,275,8,509,267,2,516,267,2,547,273,2,615,292,2,0,262,10,185,288,9,196,290,9,227,316,8,229,338,8,235,384,2,423,326,9,1115,182,1,1070,206,8,1105,224,6,1089,252,8,1034,242,9,1051,257,2,1123,275,2,1199,218,3,1183,252,2,1220,248,2,1226,263,3,1175,297,9,1204,295,10,1215,294,3,1431,290,8,1425,290,7,846,294,3,833,306,3,1077,316,2,1078,334,1,1002,351,2,1018,350,2,1027,350,2,1187,372,9,1323,365,9,1307,389,9,1164,401,2,1150,431,2,1125,458,7,1494,383,2,1404,446,2,1483,445,7,500,417,2,523,494,8,549,508,2,555,511,2,598,507,2,625,505,9,888,465,9,947,504,9,931,520,9,928,525,9,790,521,1,798,540,8,1056,532,2,1208,510,2,1237,500,6,1267,501,8,1143,543,9,1170,571,9,1203,592,7,1285,581,7,1369,557,1,1457,497,3,1492,500,2,1505,496,6,1568,472,6,1479,563,2,1519,538,5,1516,564,3,1568,544,3,547,594,9,675,577,2,702,585,2,562,641,9,565,671,9,580,691,1,1092,605,9,1094,644,10,1047,637,9,1076,669,9,1202,614,2,1219,624,9,1258,664,9,1288,685,9,1300,676,9,1356,637,5,1505,635,0,1560,640,7,782,639,9,884,615,5,915,648,6,919,661,5,950,651,5,864,645,13,1030,653,1,407,698,1,653,697,9,648,698,3,919,686,8,985,688,8,911,708,4,934,719,2,1050,687,8,1052,713,9,1119,694,5,989,750,6,1324,711,1,1318,741,8,1405,700,1,1403,746,1,1540,731,8,1439,766,8,1519,775,8,835,708,6,843,720,7,480,737,0,490,741,4,519,753,8,539,776,1,791,764,8,826,756,8,1116,768,10,1102,784,8,1187,741,3,1166,764,8,1203,780,1,1136,805,2,1151,805,7,644,790,9,663,790,9,680,807,2,855,821,9,943,825,8,925,829,9,1036,813,9,1292,818,9,1305,837,1,1374,807,2,1396,834,9,892,849,9,822,852,9,800,863,9,859,872,8,772,886,1,950,885,2,945,888,2,993,875,9,1007,886,8,1117,865,7,1138,884,8,1215,855,9,1228,852,9,1250,853,12,1362,858,2,1307,877,5,1510,870,1,575,878,9,555,895,8,1214,897,8,1193,917,10,1161,920,3,1155,912,7,1127,927,7,1270,921,1,1263,937,8,1425,904,9,1500,913,12,1494,906,9,747,924,8,778,936,9,848,938,4,848,954,3,932,950,2,1013,930,6,996,938,9,1084,958,2,1202,958,12,1176,975,5,1346,940,8,1405,950,9,1396,951,3,1362,968,10,1475,930,3,1469,958,2,1531,955,3,1505,963,2,1519,970,3,1314,973,11,1337,993,7,1032,979,5,892,986,2,907,991,3,952,996,3,971,1015,7,1090,1004,1,1145,988,8,1173,988,8,1241,990,5,1465,992,2,1400,1005,2,1414,992,2,1024,1002,2,817,1020,4,765,1039,4,1114,1017,9,1142,1019,9,1120,1035,3,1180,1029,2,1217,1026,4,1241,1023,3,1264,1017,8,1517,1012,12,1528,1018,7,1542,1030,8,772,1045,13,795,1054,5,841,1058,5,1052,1045,7,1044,1037,2,1050,1060,10,956,1055,8,996,1068,4,985,1074,2,1101,1067,2,1207,1050,13,1304,1044,4,1416,1048,2,1490,1052,3,796,1080,12,1178,1079,2,1218,1080,2,1271,1079,3,1276,1093,2,1336,1078,3,1356,1066,2,1082,1089,4,1126,1100,2,1062,1104,8,1374,1092,10,1361,1095,3,1526,1091,2,771,1112,3,836,1108,5,915,1110,2,898,1124,9,1002,1120,3,1011,1138,3,1361,1122,7,1443,1123,9,1462,1108,3,1532,1130,2,1408,1130,7,806,1151,7,861,1153,9,864,1155,9,1097,1135,2,1151,1143,2,1238,1142,9,1276,1143,1,1403,1150,9,1043,1161,2,1085,1172,3,1275,1163,7,1370,1158,1,929,1172,2,957,1180,3,966,1186,2,862,1184,3,778,1180,4,1115,1187,3,1187,1180,2,1323,1170,3,1296,1185,2,1404,1185,2,1164,1200,8,1013,1187,3,785,1204,6,814,1185,8,909,1200,12,1026,1210,3,1052,1211,2,1112,1225,2,1211,1210,8,1361,1207,9,1398,1208,7,1461,1198,8,1470,1220,13,1530,1192,7,1562,1190,3,810,1225,2,1160,1232,8,1266,1225,9,1346,1221,2,1253,1243,3,1208,1240,2,1235,1236,8,1322,1238,8,1554,1227,6,868,1258,1,892,1252,3,991,1241,3,1044,1245,10,1071,1268,7,1105,1272,3,1128,1268,3,1221,1260,3,1352,1256,10,1362,1278,2,1420,1258,5,1437,1257,3,902,1279,8,928,1295,4,969,1287,2,1012,1270,2,1012,1298,1,1017,1312,2,1173,1269,9,1126,1285,2,1092,1296,3,1068,1312,3,1247,1291,4,1302,1301,8,1389,1290,8,1181,1313,2,1193,1325,2,1115,1328,3,775,1335,4,847,1348,2,964,1326,2,955,1340,2,947,1350,2,1190,1360,3,1027,1367,2,1048,1353,7,915,1364,3,920,1387,4,1129,1377,3,1044,1397,12,1051,1417,2,1319,1389,2,1336,1385,2,914,1428,3,969,1413,2,881,1441,3,1206,1441,2,1143,1444,2,903,1472,2,1150,1477,2];

const southEast = [24,25,9,62,25,8,71,40,9,136,41,2,230,0,2,208,0,10,340,10,2,410,25,1,386,36,8,527,16,0,660,18,8,724,0,2,811,24,1,852,14,7,942,26,2,1029,25,9,1043,35,8,1095,25,12,1118,47,7,1150,25,5,1169,34,8,1243,13,5,1248,25,3,1286,29,3,1321,25,2,1348,0,8,1373,40,8,1391,39,8,176,66,4,179,65,9,232,59,2,261,62,8,346,64,2,410,60,8,440,75,12,469,81,8,9,75,9,7,97,5,184,105,8,592,48,7,610,62,7,642,55,10,637,65,2,664,76,9,734,78,2,534,92,8,610,106,2,1048,65,2,1062,85,7,1078,95,0,1135,88,8,1164,96,9,1192,66,7,1242,87,8,1284,80,12,1317,64,8,1357,76,9,1433,106,2,1479,91,11,1473,110,2,1502,125,9,1478,118,2,992,98,6,840,107,3,856,127,2,756,115,8,957,112,8,1324,108,1,1209,104,10,477,103,10,480,115,6,396,110,8,105,124,7,243,132,9,248,148,8,500,135,8,413,150,7,563,140,1,605,152,1,754,135,7,952,139,8,986,146,5,1077,142,8,1128,152,8,1201,120,9,1198,153,4,1248,155,7,1271,131,10,1344,146,8,1381,157,1,27,168,9,578,190,1,655,188,8,609,197,10,844,172,9,877,180,3,960,170,2,962,193,2,1088,198,2,1155,206,9,1184,184,10,1242,193,9,1311,172,1,1332,196,8,122,229,3,492,211,1,501,214,8,564,229,7,730,220,3,857,213,3,1273,216,1,1207,232,4,631,238,9,750,243,8,158,248,6,174,249,9,205,248,9,850,248,3,852,250,7,1012,260,10,1007,267,4,1167,244,7,1236,240,7,1214,236,1,1303,244,6,1295,267,7,270,265,2,536,262,2,526,278,1,594,251,2,375,267,8,391,265,9,405,262,8,1214,254,8,1257,259,8,1393,268,8,1390,272,3,150,295,9,801,285,4,808,278,8,1145,283,8,1165,291,1,1238,285,4,1363,292,9,893,316,13,904,340,9,1214,325,3,1261,312,9,1300,312,9,1294,314,10,634,369,9,610,375,9,116,451,2,398,457,9,984,462,8,0,472,6,200,490,9,130,507,8,272,524,1,285,544,3,31,552,5,0,543,3,113,553,9,171,572,8,187,573,9,112,583,9,110,597,9,320,575,9,290,585,9,282,595,9,389,590,8,47,597,6,38,620,3,167,605,9,197,618,9,157,634,9,0,640,7,107,656,9,358,655,8,257,681,5,288,700,1,34,760,8,48,784,8,84,763,1,156,761,8,57,811,8,295,871,9,318,888,2,358,891,2,389,905,13,391,925,4,424,909,1,22,928,2,166,934,2,388,969,2,15,1022,3,72,1023,3,46,1058,2,30,1102,9,55,1125,12,283,1096,2,86,1165,2,75,1172,2,89,1178,3,81,1200,2,184,1189,2,0,1192,3,0,1225,6];

const farWest = [525,1680,8];

// Where each group of readings sits on the page's data scale: origin and units per reading.
const regions: [number[], number, number, number, number][] = [
  [northWest, 0, 0, 1170, 820],
  [north, 1170, 0, 1170, 820],
  [northEast, 2330, 0, 1170, 820],
  [west, 0, 820, 1170, 820],
  [centre, 1170, 820, 1170, 820],
  [east, 2330, 820, 1170, 820],
  [southWest, 600, 1640, 1170, 810],
  [southEast, 1770, 1640, 1170, 820],
];

const legendTitle = "HSLuv: L*=76";
const legendXName = "Valence";
const legendYName = "Arousal";
const legendTicks = [-1, 0, 1];

function buildPoints() {
  const out: number[][] = [];
  for (const [list, x0, y0, w, h] of regions) {
    for (let i = 0; i + 2 < list.length; i += 3) {
      out.push([x0 + (list[i] * w) / 1568, y0 + (list[i + 1] * h) / 1568, list[i + 2]]);
    }
  }
  for (let i = 0; i + 2 < farWest.length; i += 3) out.push([farWest[i], farWest[i + 1], farWest[i + 2]]);
  return out;
}

const M = [
  [3.240969941904521, -1.537383177570093, -0.498610760292],
  [-0.96924363628087, 1.87596750150772, 0.041555057407175],
  [0.055630079696993, -0.20397695888897, 1.056971514242878],
];
function maxChroma(L: number, H: number) {
  const hr = (H * Math.PI) / 180;
  const s1 = Math.pow(L + 16, 3) / 1560896;
  const s2 = s1 > 0.0088564516 ? s1 : L / 903.2962962;
  let min = Infinity;
  for (const [m1, m2, m3] of M) {
    for (const t of [0, 1]) {
      const top1 = (284517 * m1 - 94839 * m3) * s2;
      const top2 = (838422 * m3 + 769860 * m2 + 731718 * m1) * L * s2 - 769860 * t * L;
      const bottom = (632260 * m3 - 126452 * m2) * s2 + 126452 * t;
      const slope = top1 / bottom;
      const intercept = top2 / bottom;
      const len = intercept / (Math.sin(hr) - slope * Math.cos(hr));
      if (len >= 0) min = Math.min(min, len);
    }
  }
  return min;
}
function hsluv(H: number, S: number, L: number) {
  const C = (maxChroma(L, H) * S) / 100;
  const hr = (H * Math.PI) / 180;
  const U = C * Math.cos(hr);
  const V = C * Math.sin(hr);
  const Y = L <= 8 ? L / 903.2962962 : Math.pow((L + 16) / 116, 3);
  const vu = U / (13 * L) + 0.19783000664283;
  const vv = V / (13 * L) + 0.46831999493879;
  const X = -(9 * Y * vu) / ((vu - 4) * vv - vu * vv);
  const Z = (9 * Y - 15 * vv * Y - vv * X) / (3 * vv);
  return M.map(([a, b, c]) => {
    const v = a * X + b * Y + c * Z;
    const g = v <= 0.0031308 ? 12.92 * v : 1.055 * Math.pow(v, 1 / 2.4) - 0.055;
    return Math.max(0, Math.min(255, Math.round(g * 255)));
  });
}
function wheelImage(size: number) {
  const cv = document.createElement("canvas");
  cv.width = size;
  cv.height = size;
  const ctx = cv.getContext("2d")!;
  const img = ctx.createImageData(size, size);
  for (let j = 0; j < size; j++) {
    for (let i = 0; i < size; i++) {
      const v = ((i + 0.5) / size) * 2 - 1;
      const a = 1 - ((j + 0.5) / size) * 2;
      let h = (Math.atan2(a, v) * 180) / Math.PI;
      if (h < 0) h += 360;
      const r0 = Math.hypot(v, a);
      const s = Math.min(100, (r0 / Math.SQRT2) * 100);
      const [r, g, b] = hsluv(h, s, 76 - 7 * r0);
      const k = (j * size + i) * 4;
      img.data[k] = r;
      img.data[k + 1] = g;
      img.data[k + 2] = b;
      img.data[k + 3] = 255;
    }
  }
  ctx.putImageData(img, 0, 0);
  return cv.toDataURL("image/png");
}

const FONT = "DejaVu Sans";
const tickFmt = (v: number) => (v < 0 ? "\u2212" + -v : String(v));

export default function App() {
  const ref = useRef<HTMLDivElement>(null);
  useEffect(() => {
    const chart = echarts.init(ref.current!, undefined, { renderer: "svg" });
    const insetAxis = {
      gridIndex: 1,
      type: "value" as const,
      min: legendTicks[0],
      max: legendTicks[2],
      interval: 1,
      z: 21,
      splitLine: { show: false },
      axisLine: { show: true, onZero: false, lineStyle: { color: "#000", width: 4 } },
      axisTick: { show: true, length: 17, lineStyle: { color: "#000", width: 4 } },
      nameLocation: "middle" as const,
      nameTextStyle: { fontFamily: FONT, fontSize: 58, color: "#000" },
    };
    chart.setOption({
      animation: false,
      backgroundColor: "#f2f2f2",
      title: {
        text: legendTitle,
        left: 3198,
        top: 1733,
        textAlign: "center",
        textStyle: { fontFamily: FONT, fontSize: 58, fontWeight: "normal", color: "#000" },
      },
      grid: [
        { left: 0, top: 0, width: 3500, height: 2450, containLabel: false },
        { left: 2958, top: 1801, width: 490, height: 490, show: true, z: 20, backgroundColor: "transparent", borderColor: "#000", borderWidth: 4 },
      ],
      xAxis: [
        { gridIndex: 0, type: "value", min: 0, max: 3500, show: false },
        {
          ...insetAxis,
          name: legendXName,
          nameGap: 82,
          axisLabel: { fontFamily: FONT, fontSize: 34, color: "#000", margin: 30, formatter: tickFmt },
        },
      ],
      yAxis: [
        { gridIndex: 0, type: "value", min: 0, max: 2450, inverse: true, show: false },
        {
          ...insetAxis,
          name: legendYName,
          nameGap: 112,
          axisLabel: { fontFamily: FONT, fontSize: 34, color: "#000", margin: 35, formatter: tickFmt },
        },
      ],
      series: [
        {
          type: "scatter",
          xAxisIndex: 0,
          yAxisIndex: 0,
          data: buildPoints(),
          symbol: "circle",
          symbolSize: 27,
          progressive: 0,
          large: false,
          silent: true,
          itemStyle: {
            opacity: 0.92,
            color: (p: any) => tones[p.value[2]],
          },
        },
      ],
      graphic: [
        {
          type: "image",
          z: 10,
          silent: true,
          style: { image: wheelImage(245), x: 2958, y: 1801, width: 490, height: 490 },
        },
        {
          type: "rect",
          z: 30,
          silent: true,
          shape: { x: 0, y: 0, width: 3500, height: 2450 },
          style: { fill: "none", stroke: "#000", lineWidth: 4 },
        },
      ],
    });
    return () => chart.dispose();
  }, []);
  return <div ref={ref} style={{ position: "absolute", left: 0, top: 0, width: 3500, height: 2450 }} />;
}
